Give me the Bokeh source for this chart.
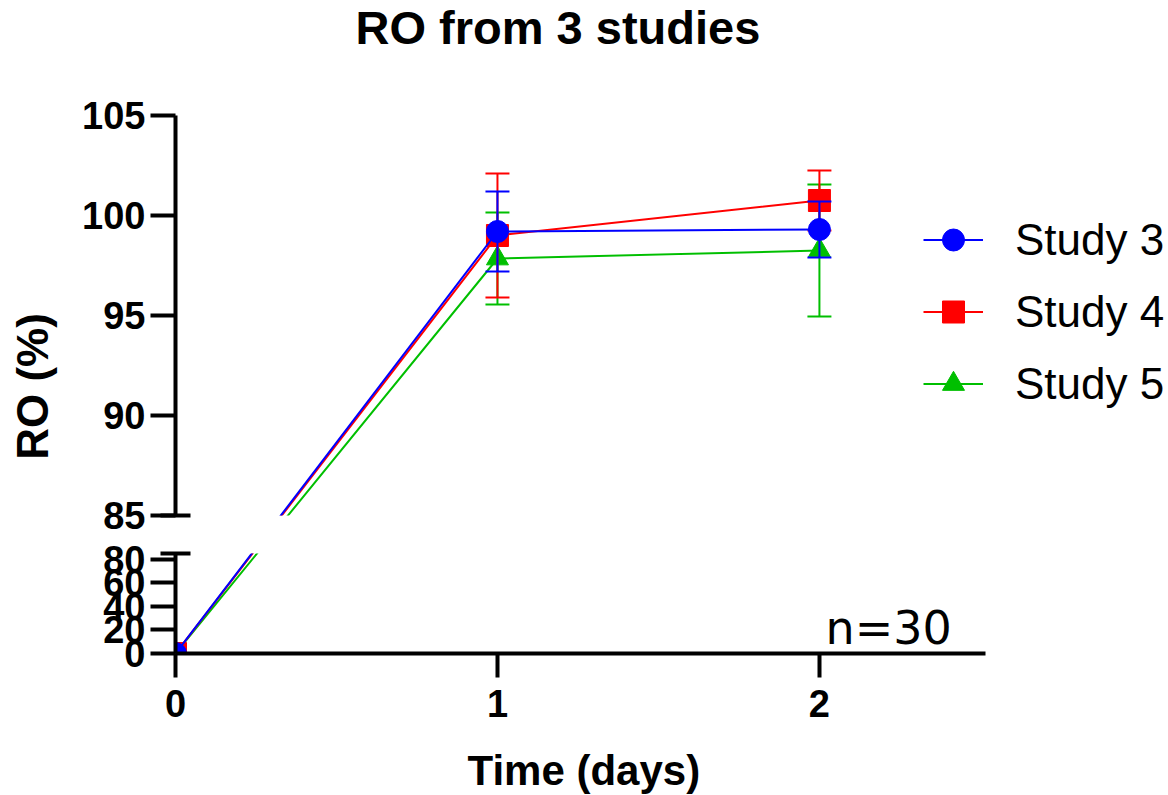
import numpy as np
from bokeh.plotting import figure
from bokeh.layouts import column, row
from bokeh.models import (Range1d, LinearAxis, FixedTicker, Legend, LegendItem,
                          Label, ColumnDataSource)
from bokeh.embed import file_html
from bokeh.resources import INLINE

# ---------------- data ----------------
days = [0, 1, 2]
study3_mean = [0.0, 99.2, 99.3]
study3_err = [0.0, 2.0, 1.4]
study4_mean = [0.0, 99.0, 100.75]
study4_err = [0.0, 3.1, 1.5]
study5_mean = [0.0, 97.85, 98.25]
study5_err = [0.0, 2.3, 3.3]

series_names = ["Study 3", "Study 4", "Study 5"]
top_ticks = [85, 90, 95, 100, 105]
bottom_ticks = [0, 20, 40, 60, 80]
x_ticks = [0, 1, 2]

# ---------------- broken-axis geometry ----------------
TOP_START = 85.0          # top segment 85..105
TOP_END = 105.0
BOTTOM_END = 85.0         # bottom segment 0..85
BOTTOM_UNITS = 5.0        # bottom segment height, in top-segment units
GAP_UNITS = 1.9           # gap between segments, in top-segment units
HEADROOM = 5.75           # space above the top segment (title area), same units


def to_display(v):
    v = np.asarray(v, dtype=float)
    return np.where(v >= TOP_START, v,
                    TOP_START - GAP_UNITS - (BOTTOM_END - v) * BOTTOM_UNITS / BOTTOM_END)


BOT_LO = TOP_START - GAP_UNITS - BOTTOM_UNITS
BOT_HI = TOP_START - GAP_UNITS

FONT = "Liberation Sans"
colors = {"Study 3": "#0000FF", "Study 4": "#FF0000", "Study 5": "#00BF00"}
markers = {"Study 3": "circle", "Study 4": "square", "Study 5": "triangle"}
data = {"Study 3": (study3_mean, study3_err),
        "Study 4": (study4_mean, study4_err),
        "Study 5": (study5_mean, study5_err)}

W = 1106


def text_strip(width, height, **kw):
    f = figure(width=width, height=height, x_range=Range1d(0, 1), y_range=Range1d(0, 1),
               output_backend="svg", toolbar_location=None,
               x_axis_location=None, y_axis_location=None,
               min_border_top=0, min_border_bottom=0, **kw)
    f.outline_line_color = None
    f.xgrid.visible = False
    f.ygrid.visible = False
    return f


# left strip carrying the y-axis title (centred on the whole broken axis)
lab = text_strip(60, 795, min_border_left=0, min_border_right=0)
lab.add_layout(Label(x=32, y=409, x_units="screen", y_units="screen", text="RO (%)",
                     angle=np.pi / 2, text_align="center", text_baseline="middle",
                     text_font=FONT, text_font_style="bold", text_font_size="44px",
                     text_color="black"))

xr = Range1d(0, 3.078)
top = figure(width=W, height=537, x_range=xr,
             y_range=Range1d(TOP_START, TOP_END + HEADROOM),
             output_backend="svg", toolbar_location=None, x_axis_location=None,
             min_border_left=115, min_border_right=0, min_border_top=0,
             min_border_bottom=22)
bot = figure(width=W, height=198, x_range=xr,
             y_range=Range1d(BOT_LO, BOT_HI),
             output_backend="svg", toolbar_location=None, y_axis_location=None,
             min_border_left=115, min_border_right=0, min_border_top=16,
             min_border_bottom=82)
bot.extra_y_ranges = {"raw": Range1d(0, BOTTOM_END)}

# bottom strip carrying the x-axis title
xlab = text_strip(W, 60, min_border_left=115, min_border_right=0)
xlab.add_layout(Label(x=292, y=25, x_units="screen", y_units="screen",
                      text="Time (days)", text_font=FONT, text_font_style="bold",
                      text_font_size="42px", text_baseline="alphabetic",
                      text_color="black"))

for f in (top, bot):
    f.outline_line_color = None
    f.xgrid.visible = False
    f.ygrid.visible = False


def style_axis(ax):
    ax.axis_line_width = 4
    ax.axis_line_color = "black"
    ax.major_tick_line_width = 4
    ax.minor_tick_line_width = 4
    ax.major_tick_in = 0
    ax.major_label_text_font = FONT
    ax.major_label_text_font_style = "bold"
    ax.major_label_text_font_size = "38px"
    ax.major_label_text_color = "black"


# top y axis
ty = top.yaxis[0]
ty.ticker = FixedTicker(ticks=top_ticks, minor_ticks=[TOP_START])
ty.bounds = (TOP_START, TOP_END)
style_axis(ty)
ty.major_tick_out = 25
ty.minor_tick_in = 15
ty.minor_tick_out = 15
ty.major_label_standoff = 5

# bottom y axis (raw values)
by = LinearAxis(y_range_name="raw",
                ticker=FixedTicker(ticks=bottom_ticks, minor_ticks=[BOTTOM_END]))
style_axis(by)
by.major_tick_out = 25
by.minor_tick_in = 15
by.minor_tick_out = 15
by.major_label_standoff = 5
bot.add_layout(by, "left")

# x axis
bx = bot.xaxis[0]
bx.ticker = FixedTicker(ticks=x_ticks)
bx.bounds = (0, 2.515)
style_axis(bx)
bx.major_tick_out = 24
bx.major_label_standoff = 12

# chart title, inside the headroom above the top segment
top.add_layout(Label(x=180, y=488, x_units="screen", y_units="screen",
                     text="RO from 3 studies", text_font=FONT, text_font_style="bold",
                     text_font_size="47px", text_baseline="alphabetic",
                     text_color="black"))

# ---------------- glyphs ----------------
legend_parts = {}
for fig in (top, bot):
    for name in ["Study 5", "Study 4", "Study 3"]:
        mean, err = data[name]
        c = colors[name]
        xs = [d for d, e in zip(days, err) if e > 0]
        hi = [m + e for m, e in zip(mean, err) if e > 0]
        lo = [m - e for m, e in zip(mean, err) if e > 0]
        es = ColumnDataSource(dict(x=xs, hi=to_display(hi), lo=to_display(lo)))
        fig.segment(x0="x", y0="lo", x1="x", y1="hi", source=es, line_color=c, line_width=2)
        fig.scatter(x="x", y="hi", source=es, marker="dash", size=24, line_color=c, line_width=2)
        fig.scatter(x="x", y="lo", source=es, marker="dash", size=24, line_color=c, line_width=2)
        src = ColumnDataSource(dict(x=days, y=to_display(mean)))
        ln = fig.line(x="x", y="y", source=src, line_color=c, line_width=2)
        mk = fig.scatter(x="x", y="y", source=src, marker=markers[name], size=22,
                         fill_color=c, line_color=c, line_width=1)
        if fig is top:
            legend_parts[name] = [ln, mk]

legend = Legend(items=[LegendItem(label=n, renderers=legend_parts[n]) for n in series_names],
                location=(748, 104), orientation="vertical",
                glyph_width=60, glyph_height=55, label_height=55, label_width=20,
                label_standoff=32, spacing=17, padding=0, margin=0,
                border_line_color=None, background_fill_alpha=0,
                label_text_font=FONT, label_text_font_size="44px",
                label_text_color="black")
top.add_layout(legend)

bot.add_layout(Label(x=650, y=26, x_units="screen", y_units="screen", text="n=30",
                     text_font="DejaVu Sans", text_font_size="46px",
                     text_baseline="alphabetic", text_color="black"))

layout = row(lab, column(top, bot, xlab, spacing=0), spacing=0)
open("out.html", "w").write(file_html(layout, INLINE))
